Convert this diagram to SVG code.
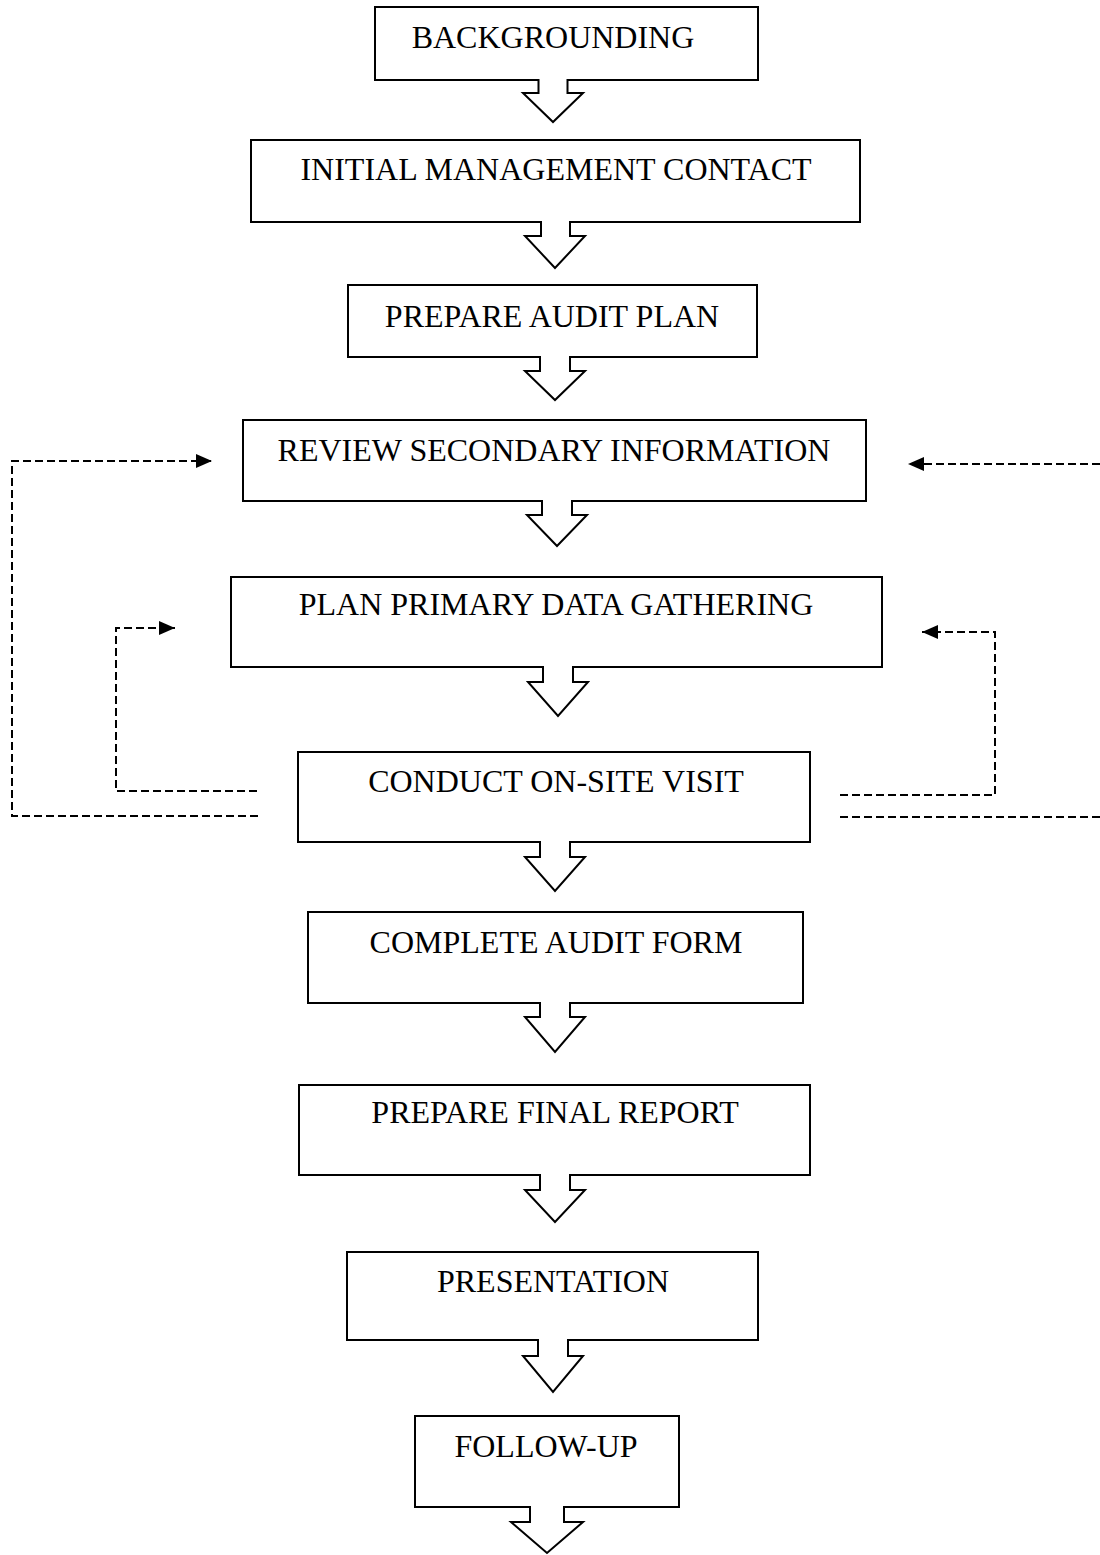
<svg xmlns="http://www.w3.org/2000/svg" width="1100" height="1555" viewBox="0 0 1100 1555">
<style>
.box{fill:#fff;stroke:#000;stroke-width:2}
.blk{fill:#fff;stroke:#000;stroke-width:2;stroke-linejoin:miter}
.lbl{font-family:"Liberation Serif","Times New Roman",serif;font-size:32px;fill:#000;text-anchor:middle}
.dash{fill:none;stroke:#000;stroke-width:2;stroke-dasharray:8 4}
</style>
<defs>
<marker id="ah" viewBox="0 0 16 14" refX="16" refY="7" markerWidth="16" markerHeight="14" markerUnits="userSpaceOnUse" orient="auto">
<path d="M0,0 L16,7 L0,14 Z" fill="#000"/>
</marker>
</defs>
<rect width="1100" height="1555" fill="#fff"/>

<g id="n1"><rect class="box" x="375" y="7" width="383" height="73"/><text class="lbl" x="553" y="48">BACKGROUNDING</text></g>
<g id="n2"><rect class="box" x="251" y="140" width="609" height="82"/><text class="lbl" x="556" y="180">INITIAL MANAGEMENT CONTACT</text></g>
<g id="n3"><rect class="box" x="348" y="285" width="409" height="72"/><text class="lbl" x="552" y="327">PREPARE AUDIT PLAN</text></g>
<g id="n4"><rect class="box" x="243" y="420" width="623" height="81"/><text class="lbl" x="554" y="461">REVIEW SECONDARY INFORMATION</text></g>
<g id="n5"><rect class="box" x="231" y="577" width="651" height="90"/><text class="lbl" x="556" y="615">PLAN PRIMARY DATA GATHERING</text></g>
<g id="n6"><rect class="box" x="298" y="752" width="512" height="90"/><text class="lbl" x="556" y="792">CONDUCT ON-SITE VISIT</text></g>
<g id="n7"><rect class="box" x="308" y="912" width="495" height="91"/><text class="lbl" x="556" y="953">COMPLETE AUDIT FORM</text></g>
<g id="n8"><rect class="box" x="299" y="1085" width="511" height="90"/><text class="lbl" x="555" y="1123">PREPARE FINAL REPORT</text></g>
<g id="n9"><rect class="box" x="347" y="1252" width="411" height="88"/><text class="lbl" x="553" y="1292">PRESENTATION</text></g>
<g id="n10"><rect class="box" x="415" y="1416" width="264" height="91"/><text class="lbl" x="546" y="1457">FOLLOW-UP</text></g>

<g id="connectors">
<path class="blk" d="M538.5,79 V93 H523 L553,122 L583,93 H567.5 V79"/>
<path class="blk" d="M541,221 V236 H525 L555,268 L585,236 H570 V221"/>
<path class="blk" d="M540,356 V371 H525 L555,400 L585,371 H570 V356"/>
<path class="blk" d="M542,500 V515 H527 L557,546 L587,515 H572 V500"/>
<path class="blk" d="M543,666 V682 H528 L558,716 L588,682 H573 V666"/>
<path class="blk" d="M540,841 V857 H525 L555,891 L585,857 H570 V841"/>
<path class="blk" d="M540,1002 V1017 H525 L555,1052 L585,1017 H570 V1002"/>
<path class="blk" d="M540,1174 V1190 H525 L555,1222 L585,1190 H570 V1174"/>
<path class="blk" d="M538,1339 V1356 H523 L553,1392 L583,1356 H568 V1339"/>
<path class="blk" d="M530,1506 V1522 H511 L547,1553 L583,1522 H564 V1506"/>

<path class="dash" d="M258,816 H12 V461 H212" marker-end="url(#ah)"/>
<path class="dash" d="M257,791 H116 V628 H175" marker-end="url(#ah)"/>
<path class="dash" d="M1100,464 H908" marker-end="url(#ah)"/>
<path class="dash" d="M840,795 H995 V632 H922" marker-end="url(#ah)"/>
<path class="dash" d="M840,817 H1100"/>
</g>
</svg>
